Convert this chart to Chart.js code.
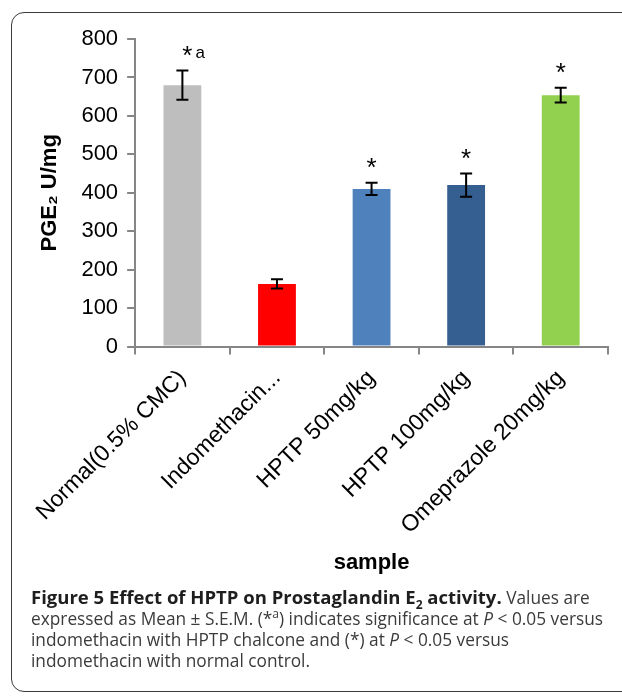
<!DOCTYPE html>
<html>
<head>
<meta charset="utf-8">
<script src="https://cdn.jsdelivr.net/npm/chart.js@4/dist/chart.umd.min.js"></script>
<style>
  body { margin: 0; background: #fff; width: 622px; height: 696px; overflow: hidden; position: relative; }
  #frame { position: absolute; left: 11px; top: 12px; width: 660px; height: 680px;
           border: 1.5px solid #3a3a3a; border-radius: 13px; box-sizing: border-box; }
  #chart { position: absolute; left: 0; top: 0; }
  #caption { position: absolute; left: 31px; top: 586px; width: 580px;
             font-family: "Open Sans", sans-serif; font-size: 17.3px; line-height: 21px; color: #3b3b3b; }
  #caption b { color: #1e1e1e; font-size: 18.5px; }
  sub, sup { font-size: 12px; line-height: 0; }
</style>
</head>
<body>
<div id="frame"></div>
<canvas id="chart" width="622" height="590"></canvas>
<div id="caption"><b>Figure 5 Effect of HPTP on Prostaglandin E<sub>2</sub> activity.</b> Values are expressed as Mean ± S.E.M. (*<sup>a</sup>) indicates significance at <i>P</i> &lt; 0.05 versus indomethacin with HPTP chalcone and (*) at <i>P</i> &lt; 0.05 versus indomethacin with normal control.</div>
<script>
// données
const categories = ['Normal(0.5% CMC)', 'Indomethacin...', 'HPTP 50mg/kg', 'HPTP 100mg/kg', 'Omeprazole 20mg/kg'];
const means = [680, 163, 410, 420, 654];
const sem = [38, 12, 16, 30, 19];
const marks = ['*a', '', '*', '*', '*'];
const barColors = ['#bebebe', '#ff0000', '#4f81bd', '#365f91', '#92d050'];
const yTicks = [0, 100, 200, 300, 400, 500, 600, 700, 800];

// barres d'erreur + astérisques
const errorBars = {
  id: 'errorBars',
  afterDatasetsDraw(chart) {
    const ctx = chart.ctx;
    const y = chart.scales.y;
    const meta = chart.getDatasetMeta(0);
    ctx.save();
    ctx.strokeStyle = '#000';
    ctx.lineWidth = 2;
    meta.data.forEach((bar, i) => {
      const x = bar.x;
      const top = y.getPixelForValue(means[i] + sem[i]);
      const bot = y.getPixelForValue(means[i] - sem[i]);
      ctx.beginPath();
      ctx.moveTo(x, top); ctx.lineTo(x, bot);
      ctx.moveTo(x - 6, top); ctx.lineTo(x + 6, top);
      ctx.moveTo(x - 6, bot); ctx.lineTo(x + 6, bot);
      ctx.stroke();
      if (marks[i]) {
        let withA = marks[i].length > 1;
        ctx.fillStyle = '#000';
        ctx.textBaseline = 'middle';
        ctx.textAlign = 'center';
        ctx.font = '26px "Liberation Sans"';
        ctx.fillText('*', x + (withA ? 5 : 0), top - 14);
        if (withA) {
          ctx.textAlign = 'left';
          ctx.font = '17px "Liberation Sans"';
          ctx.fillText(marks[i].slice(1), x + 13, top - 17);
        }
      }
    });
    ctx.restore();
  }
};

new Chart(document.getElementById('chart'), {
  type: 'bar',
  data: {
    labels: categories,
    datasets: [{
      data: means,
      backgroundColor: barColors,
      categoryPercentage: 1,
      barPercentage: 0.4
    }]
  },
  options: {
    responsive: false,
    animation: false,
    layout: { padding: { left: 10, right: 14, top: 39, bottom: 10 } },
    plugins: { legend: { display: false }, tooltip: { enabled: false } },
    scales: {
      x: {
        grid: { drawOnChartArea: false, color: '#868686', lineWidth: 2, tickLength: 8 },
        border: { color: '#868686', width: 2 },
        ticks: { color: '#000', font: { family: 'Liberation Sans', size: 23 }, minRotation: 45, maxRotation: 45, autoSkip: false, padding: 10 },
        title: { display: true, text: 'sample', color: '#000', font: { family: 'Liberation Sans', size: 22, weight: 'bold' }, padding: { top: 0, bottom: 4 } }
      },
      y: {
        min: 0, max: 800,
        afterBuildTicks: axis => { axis.ticks = yTicks.map(v => ({ value: v })); },
        grid: { drawOnChartArea: false, color: '#868686', lineWidth: 2, tickLength: 8 },
        border: { color: '#868686', width: 2 },
        ticks: { color: '#000', font: { family: 'Liberation Sans', size: 22 }, padding: 9 },
        title: { display: true, text: 'PGE₂ U/mg', color: '#000', font: { family: 'Liberation Sans', size: 22, weight: 'bold' }, padding: { top: 27, bottom: 9 } }
      }
    }
  },
  plugins: [errorBars]
});
</script>
</body>
</html>
